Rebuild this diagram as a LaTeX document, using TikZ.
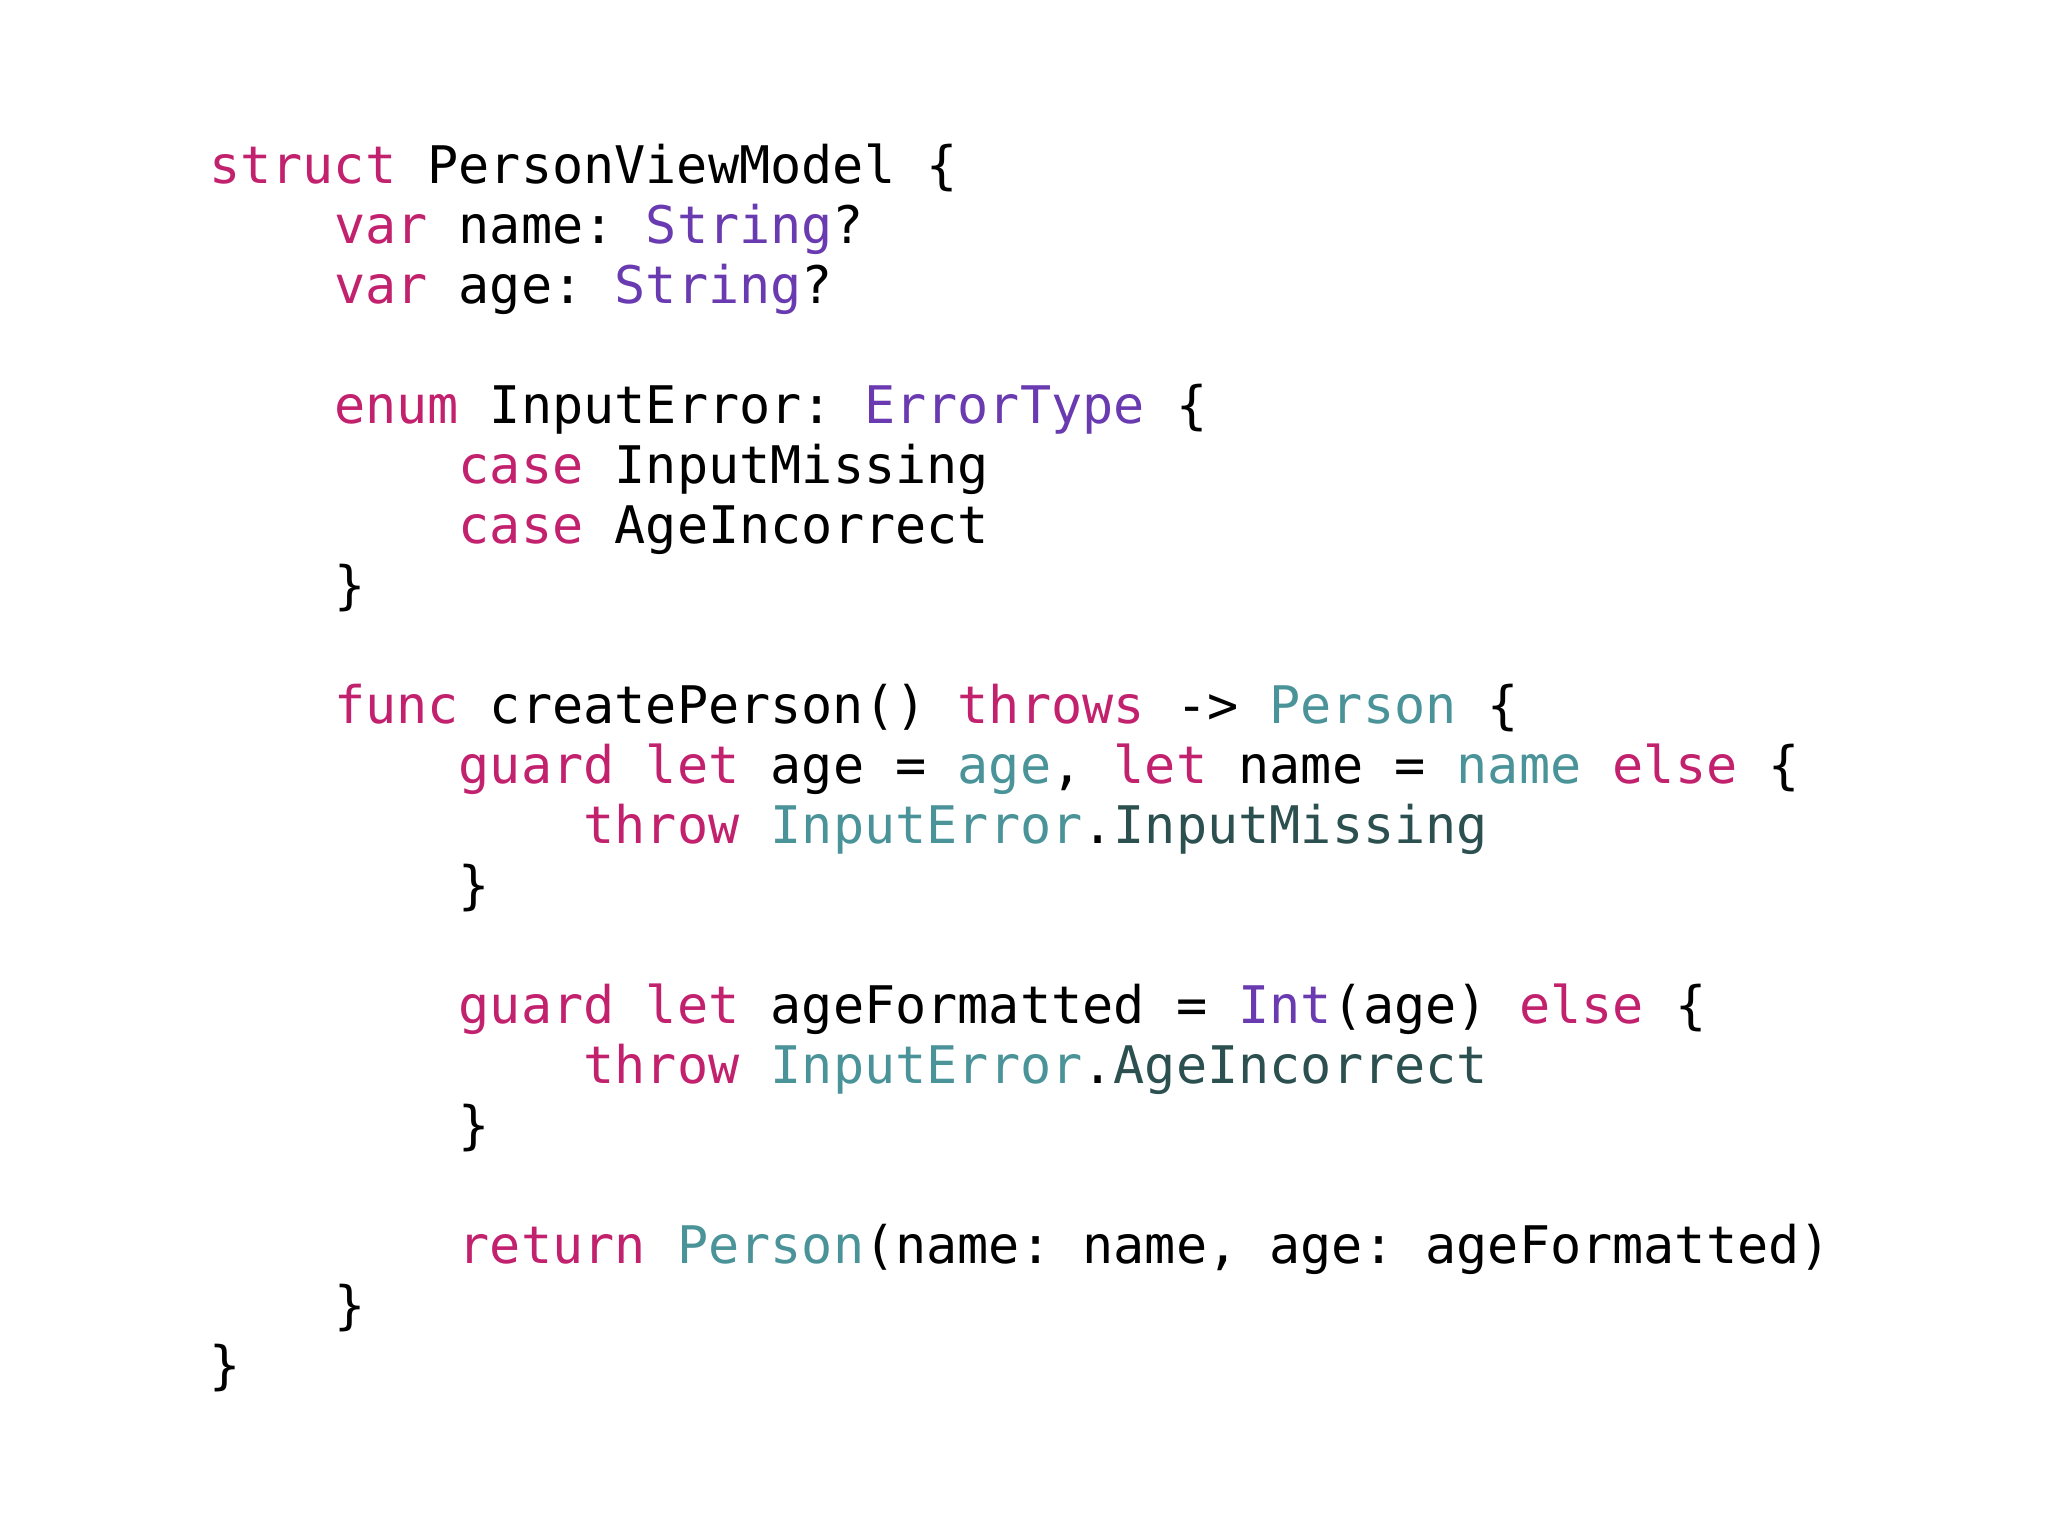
\documentclass[tikz,border=0pt]{standalone}
\usepackage{fontspec}
\setmonofont{DejaVu Sans Mono}
\definecolor{kwc}{HTML}{C2216E}
\definecolor{tyc}{HTML}{6A3BB0}
\definecolor{tlc}{HTML}{4A9399}
\definecolor{dtc}{HTML}{2C5050}
\newcommand{\kw}[1]{\textcolor{kwc}{#1}}
\newcommand{\ty}[1]{\textcolor{tyc}{#1}}
\newcommand{\tl}[1]{\textcolor{tlc}{#1}}
\newcommand{\dt}[1]{\textcolor{dtc}{#1}}
\tikzset{codeline/.style={anchor=base west,inner sep=0pt,font=\ttfamily\fontsize{51.8}{60}\selectfont,text=black}}
\begin{document}
\begin{tikzpicture}[x=1pt,y=1pt]
\useasboundingbox (0,0) rectangle (2048,-1536);
\def\cw{31.2}
\newcommand{\cl}[4]{\node[codeline] (#1) at ({209+#2*\cw},{-183-60*#3}) {#4};}
\cl{l0}{0}{0}{\kw{struct} PersonViewModel \{}
\cl{l1}{4}{1}{\kw{var} name: \ty{String}?}
\cl{l2}{4}{2}{\kw{var} age: \ty{String}?}
\cl{l4}{4}{4}{\kw{enum} InputError: \ty{ErrorType} \{}
\cl{l5}{8}{5}{\kw{case} InputMissing}
\cl{l6}{8}{6}{\kw{case} AgeIncorrect}
\cl{l7}{4}{7}{\}}
\cl{l9}{4}{9}{\kw{func} createPerson() \kw{throws} -> \tl{Person} \{}
\cl{l10}{8}{10}{\kw{guard} \kw{let} age = \tl{age}, \kw{let} name = \tl{name} \kw{else} \{}
\cl{l11}{12}{11}{\kw{throw} \tl{InputError}.\dt{InputMissing}}
\cl{l12}{8}{12}{\}}
\cl{l14}{8}{14}{\kw{guard} \kw{let} ageFormatted = \ty{Int}(age) \kw{else} \{}
\cl{l15}{12}{15}{\kw{throw} \tl{InputError}.\dt{AgeIncorrect}}
\cl{l16}{8}{16}{\}}
\cl{l18}{8}{18}{\kw{return} \tl{Person}(name: name, age: ageFormatted)}
\cl{l19}{4}{19}{\}}
\cl{l20}{0}{20}{\}}
\end{tikzpicture}
\end{document}
